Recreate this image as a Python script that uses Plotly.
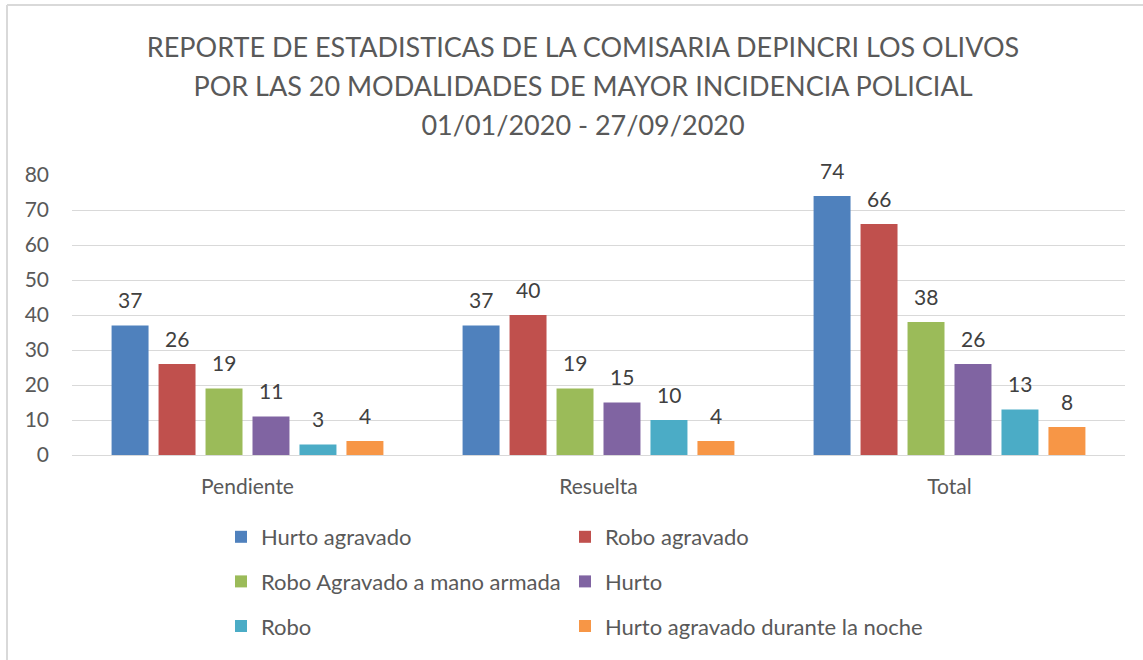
import plotly.graph_objects as go

categories = ["Pendiente", "Resuelta", "Total"]
series_names = ["Hurto agravado", "Robo agravado", "Robo Agravado a mano armada",
                "Hurto", "Robo", "Hurto agravado durante la noche"]
hurto_agravado = [37, 37, 74]
robo_agravado = [26, 40, 66]
robo_agravado_mano_armada = [19, 19, 38]
hurto = [11, 15, 26]
robo = [3, 10, 13]
hurto_agravado_noche = [4, 4, 8]
series_values = [hurto_agravado, robo_agravado, robo_agravado_mano_armada,
                 hurto, robo, hurto_agravado_noche]
colors = ["#4F81BD", "#C0504D", "#9BBB59", "#8064A2", "#4BACC6", "#F79646"]
y_ticks = [0, 10, 20, 30, 40, 50, 60, 70, 80]

title_lines = ["REPORTE DE ESTADISTICAS DE LA COMISARIA DEPINCRI LOS OLIVOS",
               "POR LAS 20 MODALIDADES DE MAYOR INCIDENCIA POLICIAL",
               "01/01/2020 - 27/09/2020"]

FONT = "Lato"
TXT = "#595959"

W, H = 1143, 660
ML, MR, MT, MB = 72, 18, 175, 205
PW = W - ML - MR
PH = H - MT - MB

fig = go.Figure()
for i, (name, vals, col) in enumerate(zip(series_names, series_values, colors)):
    fig.add_trace(go.Bar(
        x=categories, y=vals, name=name, marker=dict(color=col, line=dict(width=0)),
        legend="legend" if i % 2 == 0 else "legend2",
        legendgroup=name,
        hoverinfo="skip",
    ))

# data labels
slot = PW / len(categories) * (1 - 0.197) / len(series_names)
annotations = []
for i, vals in enumerate(series_values):
    for c, v in zip(categories, vals):
        annotations.append(dict(
            x=c, y=v, xref="x", yref="y", text=str(v), showarrow=False,
            xshift=(i - (len(series_names) - 1) / 2) * slot, yshift=26,
            yanchor="middle", font=dict(family=FONT, size=21, color="#404040"),
        ))

title_html = "<br>".join(f"<span style='font-size:27px'>{t}</span>" for t in title_lines)

def px_to_px(px):
    return (px - ML) / PW

def py_to_py(py):
    return (MT + PH - py) / PH

shapes = [
    dict(type="line", xref="paper", yref="paper", x0=px_to_px(7), x1=px_to_px(7),
         y0=py_to_py(5), y1=py_to_py(680), line=dict(color="#D9D9D9", width=2)),
    dict(type="line", xref="paper", yref="paper", x0=px_to_px(7), x1=px_to_px(1160),
         y0=py_to_py(5), y1=py_to_py(5), line=dict(color="#D9D9D9", width=2)),
]

fig.update_layout(
    width=W, height=H,
    margin=dict(l=ML, r=MR, t=MT, b=MB, pad=0, autoexpand=False),
    paper_bgcolor="white", plot_bgcolor="white",
    font=dict(family=FONT, color=TXT, size=21),
    title=dict(text=title_html, x=583 / W, xanchor="center", xref="container",
               y=1 - 57 / H, yanchor="middle", yref="container",
               font=dict(family=FONT, size=30, color=TXT)),
    barmode="group", bargap=0.197, bargroupgap=0.213,
    xaxis=dict(showgrid=False, showline=False, ticks="", ticklabelstandoff=17,
               tickfont=dict(family=FONT, size=21, color=TXT)),
    yaxis=dict(range=[0, 80], tickvals=y_ticks, showgrid=True, gridcolor="#D9D9D9",
               gridwidth=1.3, zeroline=True, zerolinecolor="#D9D9D9", zerolinewidth=1.3,
               showline=False, ticks="", ticklabelstandoff=22,
               tickfont=dict(family=FONT, size=21, color=TXT)),
    legend=dict(orientation="v", x=px_to_px(221), xanchor="left", y=py_to_py(516),
                yanchor="top", tracegroupgap=13, font=dict(family=FONT, size=22, color=TXT),
                bgcolor="rgba(0,0,0,0)"),
    legend2=dict(orientation="v", x=px_to_px(565), xanchor="left", y=py_to_py(516),
                 yanchor="top", tracegroupgap=13, font=dict(family=FONT, size=22, color=TXT),
                 bgcolor="rgba(0,0,0,0)"),
    annotations=annotations,
    shapes=shapes,
)

fig.write_html("out.html", config={"displayModeBar": False},
               post_script="document.body.style.margin='0';")
